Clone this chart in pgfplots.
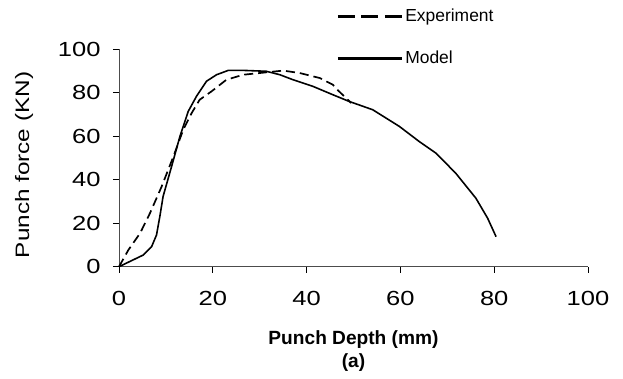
\documentclass[border=0pt]{standalone}
\usepackage{pgfplots}
\pgfplotsset{compat=1.18}
\usepackage{fontspec}
\setmainfont{Liberation Sans}
\newfontfamily\widefont[FakeStretch=1.25]{Liberation Sans}
\begin{document}
\begin{tikzpicture}
\begin{axis}[
  scale only axis,
  width=469bp, height=217.4bp,
  xmin=0, xmax=100, ymin=0, ymax=100,
  axis x line*=bottom, axis y line*=left,
  axis line style={gray!60!black, line width=0.8pt},
  xtick={0,20,...,100}, ytick={0,20,...,100},
  tick align=outside, major tick length=6bp,
  tick style={black, line width=0.8pt},
  /pgf/number format/assume math mode=true,
  ticklabel style={font=\widefont\fontsize{20.5}{24}\selectfont},
  xticklabel style={yshift=-15bp},
  yticklabel style={xshift=-9bp},
  xlabel={\textbf{Punch Depth (mm)}\\\textbf{(a)}},
  xlabel style={font=\fontsize{19.2}{23.5}\selectfont, align=center, at={(rel axis cs:0.5,0)}, anchor=north, yshift=-60bp},
  ylabel={Punch force (KN)},
  ylabel style={font=\widefont\fontsize{19.5}{24}\selectfont, at={(axis description cs:-0.2026,0.468)}, anchor=center},
  legend style={font=\fontsize{17.5}{21}\selectfont, draw=none, fill=none, at={(rel axis cs:0.463,1.195)}, anchor=north west, inner sep=0pt, row sep=24bp, legend cell align=left, /tikz/every even column/.append style={column sep=2bp}},
  legend image code/.code={\draw[#1, line width=3pt] (0bp,0bp) -- (64bp,0bp);},
  clip=false,
]
\addplot[black, line width=1.7pt, dash pattern=on 9bp off 5bp, forget plot] coordinates {
(0,0) (2,7.7) (4.5,15.4) (6.6,24.6) (9.1,36.9) (11.6,50.7) (13.7,63) (15.5,70.7) (17.2,76.8) (19.7,80.6) (22.9,86) (26.5,88.3) (31.4,89.4) (35,90.2) (38.5,89.1) (42.8,86.8) (45.6,83.7) (46.7,81.1) (48.4,77.6) (49.5,75.3)
};
\addlegendimage{black, dash pattern=on 17bp off 6.5bp}
\addlegendentry{Experiment}
\addplot[black, line width=1.6pt] coordinates {
(0,0) (5.2,5.4) (6.95,9.2) (8.0,14.6) (8.7,23) (9.4,32.3) (11.2,46) (13,60) (14.75,71.4) (16.5,78.3) (18.65,85.3) (20.8,88.3) (23.3,90.3) (26.5,90.3) (31.4,89.9) (34.3,88.3) (37.1,86) (41.3,83) (45.6,79.1) (49.1,76) (54.1,72.2) (59.8,64.5) (64,57.6) (67.6,52.2) (71.8,43) (76.1,31.5) (78.6,22.3) (80.4,13.8)
};
\addlegendentry{Model}
\end{axis}
\path[use as bounding box] (-119bp,-112.3bp) rectangle (504bp,266.7bp);
\end{tikzpicture}
\end{document}
